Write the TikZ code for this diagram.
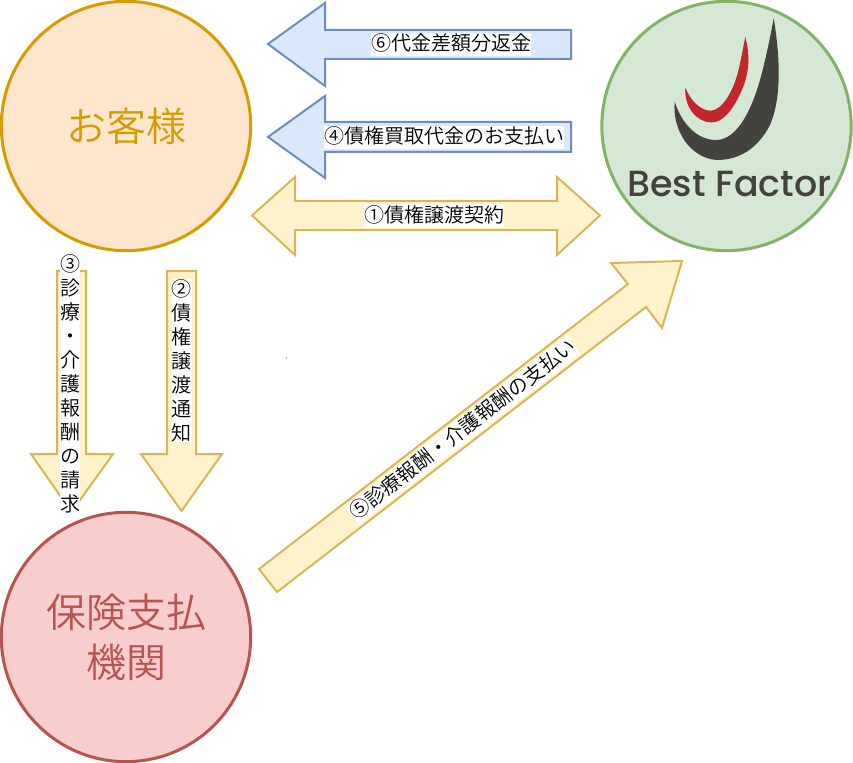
\documentclass[tikz,border=0pt]{standalone}
\usepackage{fontspec}
\newfontfamily\jpfont{Noto Sans CJK JP DemiLight}
\newfontfamily\logofont{Poppins Medium}
\definecolor{orgF}{HTML}{FFE6CC}\definecolor{orgD}{HTML}{D79B00}
\definecolor{grnF}{HTML}{D5E8D4}\definecolor{grnD}{HTML}{82B366}
\definecolor{redF}{HTML}{F8CECC}\definecolor{redD}{HTML}{B85450}
\definecolor{yelF}{HTML}{FFF2CC}\definecolor{yelD}{HTML}{D6B656}
\definecolor{bluF}{HTML}{DAE8FC}\definecolor{bluD}{HTML}{6C8EBF}
\definecolor{logoD}{HTML}{43423D}\definecolor{logoR}{HTML}{C1272D}
\tikzset{
  party/.style={circle,line width=2.25pt,minimum size=187pt,inner sep=0pt,align=center,
    font=\jpfont\fontsize{30}{37.5}\selectfont},
  yarrow/.style={draw=yelD,fill=yelF,line width=1.5pt,line join=miter},
  barrow/.style={draw=bluD,fill=bluF,line width=1.5pt,line join=miter},
  lbl/.style={fill=white,inner sep=0pt,text=black,font=\jpfont\fontsize{15}{17.25}\selectfont,
    text height=13.5pt,text depth=3.75pt},
  vlbl/.style={fill=white,inner sep=0pt,text=black,align=center,text width=15pt,
    font=\jpfont\fontsize{15}{18}\selectfont},
}
\begin{document}
\begin{tikzpicture}[x=0.75pt,y=-0.75pt]
\useasboundingbox (0,0) rectangle (853,763);
% parties
\node[party,draw=orgD,fill=orgF,text=orgD] (customer) at (126,126) {お客様};
\node[party,draw=grnD,fill=grnF] (factor) at (726.5,126) {};
\node[party,draw=redD,fill=redF,text=redD] (payer) at (126,637) {保険支払\\機関};
% logo
\fill[logoD] (773.7,18.3) .. controls (779,50) and (783,95) .. (770,125)
  .. controls (757,150) and (738,160) .. (716.7,160)
  .. controls (690,158) and (672,130) .. (674.7,101.7)
  .. controls (682,125) and (698,140) .. (716,140)
  .. controls (738,140) and (752,108) .. (760,80)
  .. controls (766,58) and (770,38) .. (773.7,18.3) -- cycle;
\fill[logoR] (745.3,36.7) .. controls (750,55) and (750,72) .. (741,92)
  .. controls (732,112) and (722,122.5) .. (711,122.5)
  .. controls (697,122) and (684,108) .. (685.3,87.3)
  .. controls (690,100) and (700,110.7) .. (711,110.7)
  .. controls (722,110) and (733,92) .. (738,72)
  .. controls (741,60) and (743,48) .. (745.3,36.7) -- cycle;
\node[inner sep=0pt,text=logoD,font=\logofont\fontsize{27.3}{30}\selectfont] (brand) at (729.5,184.5) {Best Factor};
% block arrows
\draw[barrow] (268,44) -- (325,3) -- (325,30) -- (571,30) -- (571,59) -- (325,59) -- (325,86) -- cycle;
\draw[barrow] (268,137) -- (325,96) -- (325,122) -- (571,122) -- (571,152) -- (325,152) -- (325,178) -- cycle;
\draw[yarrow] (252,215.5) -- (295,177) -- (295,201) -- (557,201) -- (557,177) -- (600,215.5) -- (557,255) -- (557,230) -- (295,230) -- (295,255) -- cycle;
\draw[yarrow] (57,271) -- (86,271) -- (86,454) -- (113,454) -- (71.5,512) -- (31,454) -- (57,454) -- cycle;
\draw[yarrow] (167,271) -- (196,271) -- (196,454) -- (222,454) -- (181.5,511) -- (141,454) -- (167,454) -- cycle;
\draw[yarrow] (259,569) -- (628,284) -- (611,263) -- (682,261) -- (662,328) -- (646,307) -- (277,592) -- cycle;
% labels
\node[lbl] (l6) at (451,44.5) {⑥代金差額分返金};
\node[lbl] (l4) at (444,137.5) {④債権買取代金のお支払い};
\node[lbl] (l1) at (434,216) {①債権譲渡契約};
\node[vlbl] (l3) at (70,383.5) {③\\診\\療\\・\\介\\護\\報\\酬\\の\\請\\求};
\node[vlbl] (l2) at (181.5,360.5) {②\\債\\権\\譲\\渡\\通\\知};
\node[lbl,rotate=37.7] (l5) at (463,430) {⑤診療報酬・介護報酬の支払い};
% stray dot
\fill[black] (286.5,358) circle (0.5);
\end{tikzpicture}
\end{document}
